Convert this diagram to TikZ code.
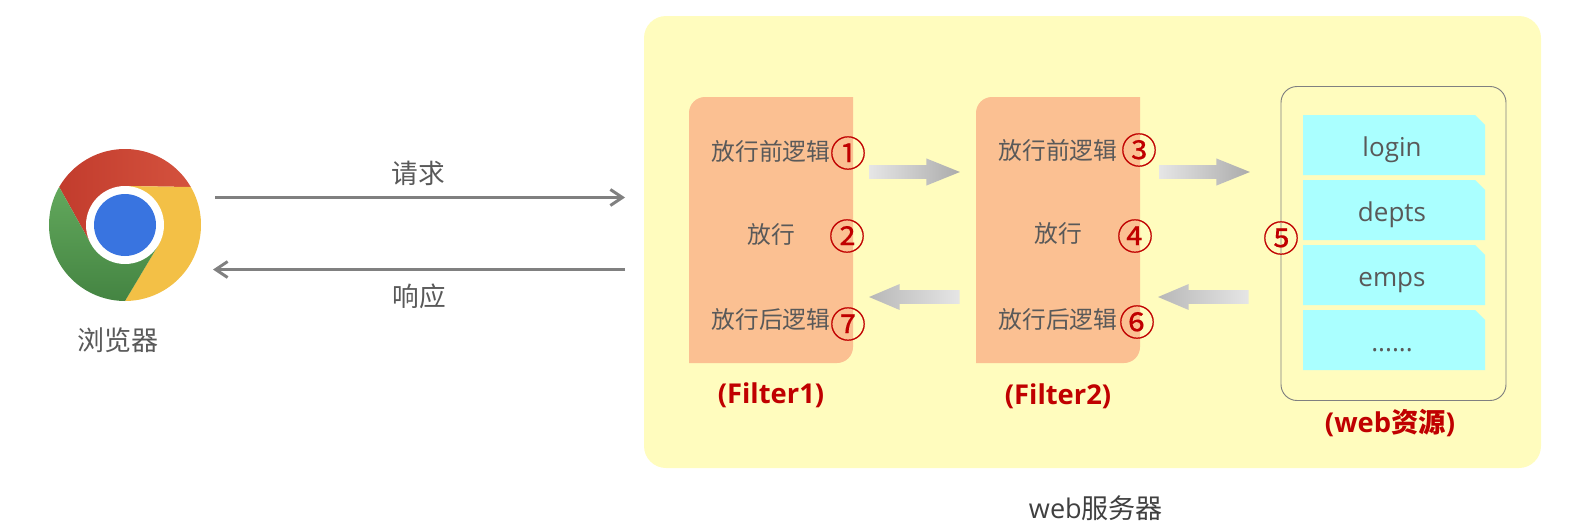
\documentclass[tikz,border=0pt]{standalone}
\usepackage{fontspec}
\setmainfont{Noto Sans CJK SC}
\newfontfamily\latinfont{Open Sans}
\newfontfamily\numfont[FakeBold=0.2]{Noto Sans CJK SC}
\usetikzlibrary{arrows.meta,calc,positioning,shapes.arrows}
\definecolor{panelyellow}{RGB}{255,252,190}
\definecolor{filterpeach}{RGB}{251,192,146}
\definecolor{doccyan}{RGB}{170,255,255}
\definecolor{stepred}{RGB}{192,0,0}
\definecolor{labelgrey}{RGB}{89,89,89}
\definecolor{chromeredl}{RGB}{194,60,45}
\definecolor{chromeredr}{RGB}{212,82,62}
\definecolor{chromeyellow}{RGB}{243,192,70}
\definecolor{chromegreent}{RGB}{98,168,92}
\definecolor{chromegreenb}{RGB}{68,132,66}
\definecolor{chromeblue}{RGB}{57,116,224}
\tikzset{
  txt/.style={text=labelgrey,font=\fontsize{17.8}{22}\selectfont,inner sep=0pt},
  big/.style={text=labelgrey,font=\fontsize{20.3}{22}\selectfont,inner sep=0pt},
  doc/.style={text=labelgrey,font=\fontsize{19.5}{22}\selectfont\latinfont,inner sep=0pt,anchor=base},
  num/.style={text=stepred,font=\fontsize{27}{30}\selectfont\numfont,inner sep=0pt},
  tag/.style={text=stepred,font=\fontsize{20.5}{22}\selectfont\bfseries,inner sep=0pt},
  link/.style={draw=black!50,line width=2.2pt,-{Straight Barb[length=9pt,width=12pt,line width=2.2pt]}},
  flowr/.style={single arrow,anchor=tail,minimum width=20pt,minimum height=68pt,single arrow head extend=5pt,single arrow tip angle=44,inner xsep=0pt,inner ysep=5pt,left color=black!10,right color=black!33},
  flowl/.style={single arrow,anchor=tail,shape border rotate=180,minimum width=19pt,minimum height=68pt,single arrow head extend=4.5pt,single arrow tip angle=46,inner xsep=0pt,inner ysep=5pt,left color=black!28,right color=black!10},
}
\begin{document}
\begin{tikzpicture}[x=0.75pt,y=-0.75pt]
  \useasboundingbox (0,0) rectangle (1578,525);

  % Browser
  \begin{scope}[shift={(125,225)},y=0.75pt]
    \shade[left color=chromeredl,right color=chromeredr] (30:76) arc (30:150:76) -- (210:39) -- (0,0) -- (90:39) -- cycle;
    \fill[chromeyellow] (30:76) arc (30:-90:76) -- (-30:39) -- (0,0) -- (90:39) -- cycle;
    \shade[top color=chromegreent,bottom color=chromegreenb] (150:76) arc (150:270:76) -- (-30:39) -- (0,0) -- (210:39) -- cycle;
    \fill[white] (0,0) circle (39);
    \fill[chromeblue] (0,0) circle (31);
  \end{scope}
  \node[big] (browser) at (118,340) {浏览器};

  % Server panel
  \fill[panelyellow,rounded corners=16.5pt] (644,16) rectangle (1541,468);
  \node[big,text=black!75] (server) at (1096,508) {{\latinfont web}服务器};

  % Request and response
  \coordinate (reqa) at (215,197.5);
  \coordinate (reqb) at (625,197.5);
  \coordinate (resa) at (625,269.5);
  \coordinate (resb) at (213,269.5);
  \draw[link] (reqa) -- (reqb);
  \draw[link] (resa) -- (resb);
  \node[big,font=\fontsize{20}{22}\selectfont] (req) at (418,173) {请求};
  \node[big,font=\fontsize{20}{22}\selectfont] (res) at (419,296) {响应};

  % Filters
  \foreach \fx in {689,976} {
    \fill[filterpeach] (\fx+164,97) [rounded corners=12pt] -- (\fx,97) [sharp corners] -- (\fx,363) [rounded corners=12pt] -- (\fx+164,363) [sharp corners] -- cycle;
  }
  \node[txt] (pre1) at (771,151) {放行前逻辑};
  \node[txt] (go1) at (771,234) {放行};
  \node[txt] (post1) at (771,319) {放行后逻辑};
  \node[txt] (pre2) at (1058,150) {放行前逻辑};
  \node[txt] (go2) at (1058,233) {放行};
  \node[txt] (post2) at (1058,319) {放行后逻辑};
  \node[tag] (f1) at (771,395) {\latinfont (Filter1)};
  \node[tag] (f2) at (1058,396) {\latinfont (Filter2)};

  % Web resources
  \draw[black!50,line width=0.7pt,rounded corners=12pt] (1281,86.5) rectangle (1506,400.5);
  \foreach \name/\ytop/\word in {login/115/login,depts/180/depts,emps/245/emps,more/310/{......}} {
    \fill[doccyan] (1303,\ytop) -- (1475,\ytop) -- (1485,\ytop+10) -- (1485,\ytop+60) -- (1303,\ytop+60) -- cycle;
    \node[doc] (\name) at (1392,\ytop+41) {\word};
  }
  \node[tag] (web) at (1390,423) {{\latinfont (web}资源{\latinfont )}};

  % Steps
  \node[num] (s1) at (848,153) {①};
  \node[num] (s2) at (847,236) {②};
  \node[num] (s7) at (848,324) {⑦};
  \node[num] (s3) at (1139,150) {③};
  \node[num] (s4) at (1135,236) {④};
  \node[num] (s6) at (1137,322) {⑥};
  \node[num] (s5) at (1281,238) {⑤};

  % Flow arrows
  \node[flowr] (a1) at (869,172) {};
  \node[flowl] (a2) at (960,297) {};
  \node[flowr] (a3) at (1159,172) {};
  \node[flowl] (a4) at (1249,297) {};
\end{tikzpicture}
\end{document}
